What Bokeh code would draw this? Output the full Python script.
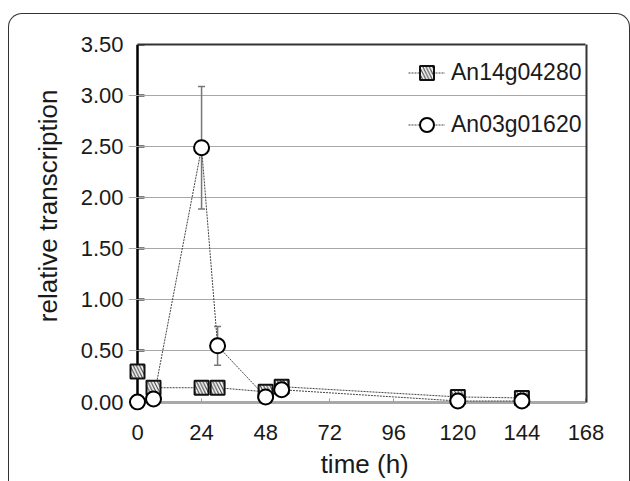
from bokeh.plotting import figure
from bokeh.models import (ColumnDataSource, Legend, LegendItem, Whisker, TeeHead,
                          FixedTicker, Range1d, NumeralTickFormatter, LinearAxis,
                          InlineStyleSheet)
from bokeh.embed import file_html
from bokeh.resources import INLINE

# ---- data ----
time_h = [0, 6, 24, 30, 48, 54, 120, 144]
an14g04280 = [0.30, 0.14, 0.14, 0.14, 0.10, 0.15, 0.05, 0.04]
an03g01620 = [0.00, 0.03, 2.49, 0.55, 0.05, 0.12, 0.01, 0.01]
err_time = [24, 30]
err_mean = [2.49, 0.55]
err_sd = [0.60, 0.19]
x_ticks = [0, 24, 48, 72, 96, 120, 144, 168]
y_ticks = [0.0, 0.5, 1.0, 1.5, 2.0, 2.5, 3.0, 3.5]
series_names = ["An14g04280", "An03g01620"]
x_title = "time (h)"
y_title = "relative transcription"

FONT = "Liberation Sans"
TXT = "#1a1a1a"

p = figure(width=630, height=481, x_range=Range1d(-3.37, 168.19), y_range=Range1d(-0.083, 3.5),
           output_backend="svg", toolbar_location=None,
           min_border_left=128, min_border_right=44, min_border_top=44, min_border_bottom=70)
p.background_fill_color = "white"
p.border_fill_color = "white"
p.outline_line_color = None

# label-carrying axes (in the side panels)
p.xaxis.ticker = FixedTicker(ticks=x_ticks)
p.yaxis.ticker = FixedTicker(ticks=y_ticks)
p.yaxis.formatter = NumeralTickFormatter(format="0.00")
p.xaxis.bounds = (x_ticks[0], x_ticks[-1])
p.yaxis.bounds = (y_ticks[0], y_ticks[-1])
for ax in (p.xaxis[0], p.yaxis[0]):
    ax.axis_line_color = None
    ax.major_tick_line_color = None
    ax.minor_tick_line_color = None
    ax.major_tick_out = 0
    ax.major_tick_in = 0
    ax.major_label_text_font = FONT
    ax.major_label_text_font_size = "22px"
    ax.major_label_text_color = TXT
    ax.axis_label_text_font = FONT
    ax.axis_label_text_font_size = "26px"
    ax.axis_label_text_font_style = "normal"
    ax.axis_label_text_color = TXT
p.yaxis.major_label_standoff = 5
p.yaxis.axis_label = "\u00a0" * 6 + y_title
p.yaxis.axis_label_standoff = 15
p.xaxis.major_label_standoff = 14
p.xaxis.axis_label = "\u00a0" * 2 + x_title
p.xaxis.axis_label_standoff = 6

# axis lines + inward ticks at the data origin (no labels of their own)
common = dict(level="underlay", minor_tick_line_color=None, major_tick_out=0,
              major_label_text_color=None, major_label_text_alpha=0,
              major_label_text_font_size="1px", major_label_standoff=0)
y_line = LinearAxis(fixed_location=0, bounds=(y_ticks[0], y_ticks[-1]),
                    ticker=FixedTicker(ticks=y_ticks),
                    axis_line_color="black", axis_line_width=2.5,
                    major_tick_in=7, major_tick_line_color="black",
                    major_tick_line_width=2, **common)
x_line = LinearAxis(fixed_location=0, bounds=(x_ticks[0], x_ticks[-1]),
                    ticker=FixedTicker(ticks=x_ticks),
                    axis_line_color="#555555", axis_line_width=2,
                    major_tick_in=4, major_tick_line_color="#999999",
                    major_tick_line_width=1, **common)
p.add_layout(y_line, "left")
p.add_layout(x_line, "below")

# top and right frame edges
edge = dict(axis_line_color="#333333", axis_line_width=2,
            major_tick_line_color=None, minor_tick_line_color=None)
top_ax = LinearAxis(ticker=FixedTicker(ticks=[]), bounds=(x_ticks[0], x_ticks[-1]), **edge)
right_ax = LinearAxis(ticker=FixedTicker(ticks=[]), bounds=(y_ticks[0], y_ticks[-1]), **edge)
p.add_layout(top_ax, "above")
p.add_layout(right_ax, "right")

p.xgrid.grid_line_color = None
p.ygrid.grid_line_color = "#a8a8a8"
p.ygrid.grid_line_width = 1
p.ygrid.bounds = (x_ticks[0], x_ticks[-1])

# error bars
err_src = ColumnDataSource(dict(x=err_time,
                                upper=[m + s for m, s in zip(err_mean, err_sd)],
                                lower=[m - s for m, s in zip(err_mean, err_sd)]))
wh = Whisker(base="x", upper="upper", lower="lower", source=err_src,
             line_color="#777777", line_width=1.5, level="underlay",
             upper_head=TeeHead(size=7, line_color="#777777", line_width=1.5),
             lower_head=TeeHead(size=7, line_color="#777777", line_width=1.5))
p.add_layout(wh)

src = ColumnDataSource(dict(t=time_h, a=an14g04280, b=an03g01620))
sq_line = p.line("t", "a", source=src, line_color="#444444", line_width=1, line_dash="2 1")
c_line = p.line("t", "b", source=src, line_color="#444444", line_width=1, line_dash="2 1")
sq = p.scatter("t", "a", source=src, marker="square", size=14, fill_color="#f4f4f4",
               hatch_pattern="\\", hatch_scale=6.5, hatch_weight=1, hatch_color="#333333",
               line_color="#111111", line_width=2)
ci = p.scatter("t", "b", source=src, marker="circle", size=15, fill_color="white",
               line_color="black", line_width=2)

legend = Legend(items=[LegendItem(label=series_names[0], renderers=[sq_line, sq]),
                       LegendItem(label=series_names[1], renderers=[c_line, ci])],
                location=(280, 268), glyph_width=37, glyph_height=35, spacing=17,
                padding=0, margin=0, label_standoff=6,
                label_text_font=FONT, label_text_font_size="23px", label_text_color=TXT,
                border_line_color=None, background_fill_alpha=0)
p.add_layout(legend)

# rounded outer panel border (open at the bottom, as in the cropped original)
p.stylesheets = [InlineStyleSheet(css="""
:host { position: relative; }
:host::after {
  content: ""; position: absolute; left: 8px; top: 13px; right: 0px; bottom: 0px;
  box-sizing: border-box; border: 1.5px solid #333333; border-bottom: none;
  border-radius: 14px 14px 0 0; pointer-events: none; z-index: 10;
}
""")]

open("out.html", "w").write(file_html(p, INLINE))
